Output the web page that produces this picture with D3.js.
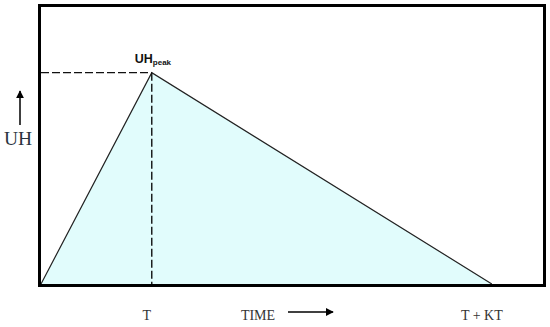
<!DOCTYPE html>
<html><head><meta charset="utf-8">
<script src="https://cdn.jsdelivr.net/npm/d3@7"></script>
<style>body{margin:0;background:#fff}svg{display:block}</style>
</head><body>
<svg id="c" width="550" height="327"></svg>
<script>
// Data (relative units: time in multiples of T, discharge in multiples of UHpeak)
const times = [0, 1, 4.07];          // start, T (peak), T + KT (end)
const uhValues = [0, 1, 0];           // unit hydrograph ordinates
const tickValues = [1, 4.07];
const tickLabels = ["T", "T + KT"];
const peakLabel = {main: "UH", sub: "peak"};

const svg = d3.select("#c");
const x = d3.scaleLinear().domain([0, 4.55]).range([41, 545]);
const y = d3.scaleLinear().domain([0, 1.32]).range([284, 5]);

const pts = times.map((t, i) => [x(t), y(uhValues[i])]);

// filled triangle
svg.append("path")
  .attr("d", d3.area().x(d => d[0]).y0(y(0)).y1(d => d[1])(pts))
  .attr("fill", "#e1fcfc");
svg.append("path")
  .attr("d", d3.line()(pts))
  .attr("fill", "none").attr("stroke", "#222").attr("stroke-width", 1.2);

// dashed guide lines
const peakX = x(times[1]), peakY = y(uhValues[1]);
svg.append("line").attr("x1", x(0)).attr("x2", peakX).attr("y1", peakY).attr("y2", peakY)
  .attr("stroke", "#111").attr("stroke-width", 1.4).attr("stroke-dasharray", "8,3");
svg.append("line").attr("x1", peakX).attr("x2", peakX).attr("y1", peakY).attr("y2", y(0))
  .attr("stroke", "#111").attr("stroke-width", 1.4).attr("stroke-dasharray", "8,3");

// frame
svg.append("rect").attr("x", 39.5).attr("y", 5.5).attr("width", 505).attr("height", 280)
  .attr("fill", "none").attr("stroke", "#000").attr("stroke-width", 3);

// peak label
const pl = svg.append("text").attr("x", peakX - 17).attr("y", 63)
  .attr("font-family", "Liberation Sans, Arial, sans-serif").attr("font-weight", "bold")
  .attr("font-size", 12.5).attr("fill", "#111");
pl.append("tspan").text(peakLabel.main);
pl.append("tspan").attr("font-size", 8).attr("font-weight", "bold").attr("dy", 2).text(peakLabel.sub);

// x tick labels
const offs = [-5, -10];
svg.selectAll("text.tick").data(tickValues).enter().append("text")
  .attr("class", "tick")
  .attr("x", (d, i) => x(d) + offs[i]).attr("y", 320)
  .attr("text-anchor", "middle")
  .attr("font-family", "Liberation Serif, Times New Roman, serif").attr("font-size", 14)
  .attr("fill", "#333").text((d, i) => tickLabels[i]);

// arrow marker
const defs = svg.append("defs");
defs.append("marker").attr("id", "ah").attr("viewBox", "0 0 10 10").attr("refX", 9).attr("refY", 5)
  .attr("markerWidth", 8).attr("markerHeight", 8).attr("markerUnits", "userSpaceOnUse").attr("orient", "auto")
  .append("path").attr("d", "M0,0 L10,5 L0,10 Z").attr("fill", "#000");

// TIME axis title
svg.append("text").attr("x", 258).attr("y", 320).attr("text-anchor", "middle")
  .attr("font-family", "Liberation Serif, Times New Roman, serif").attr("font-size", 14)
  .attr("fill", "#333").text("TIME");
svg.append("line").attr("x1", 288).attr("x2", 333).attr("y1", 312).attr("y2", 312)
  .attr("stroke", "#000").attr("stroke-width", 1.5).attr("marker-end", "url(#ah)");

// UH axis title
svg.append("text").attr("x", 18).attr("y", 145).attr("text-anchor", "middle")
  .attr("font-family", "Liberation Serif, Times New Roman, serif").attr("font-size", 19.5)
  .attr("fill", "#2a3440").text("UH");
svg.append("line").attr("x1", 20).attr("x2", 20).attr("y1", 125).attr("y2", 91)
  .attr("stroke", "#000").attr("stroke-width", 1.5).attr("marker-end", "url(#ah)");
</script>
</body></html>
